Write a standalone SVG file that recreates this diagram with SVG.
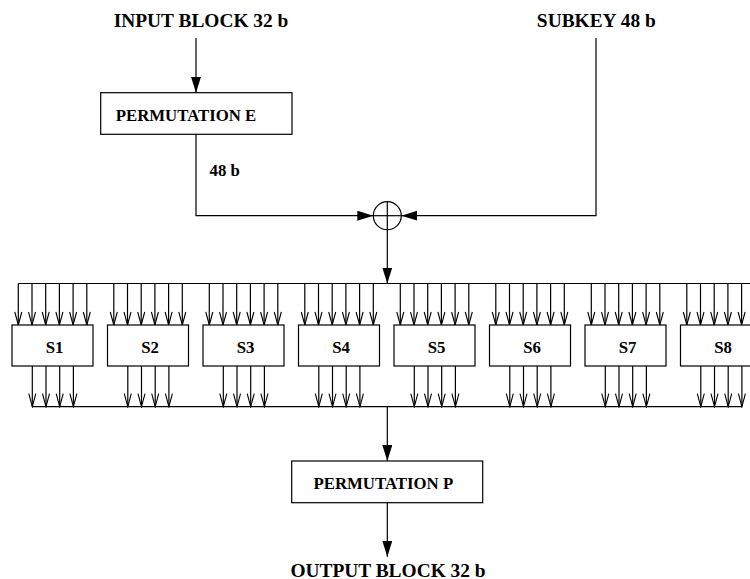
<svg xmlns="http://www.w3.org/2000/svg" width="750" height="579" viewBox="0 0 750 579">
<style>
.ln{stroke:#000;stroke-width:1.2;fill:none}
.bx{stroke:#000;stroke-width:1.2;fill:#fff}
.t{font-family:"Liberation Serif","Times New Roman",serif;font-weight:bold;font-size:16.8px;fill:#000}
.big{font-size:19.4px}
.m{text-anchor:middle}
.in{marker-end:url(#open)}
.fa{marker-end:url(#filled)}
</style>
<defs>
<marker id="filled" markerUnits="userSpaceOnUse" markerWidth="17" markerHeight="11" refX="16" refY="5" orient="auto" viewBox="0 0 17 11">
<path d="M0,0 L16,5 L0,10 z" fill="#000"/>
</marker>
<marker id="open" markerUnits="userSpaceOnUse" markerWidth="15" markerHeight="9" refX="13" refY="3.5" orient="auto" viewBox="-1 -1 15 9">
<path d="M0,0 L13,3.5 L0,7" fill="none" stroke="#000" stroke-width="1.1"/>
</marker>
</defs>
<rect width="750" height="579" fill="#fff"/>

<g id="connectors">
<line class="ln fa" x1="196" y1="38" x2="196" y2="92.7"/>
<polyline class="ln fa" points="196,134.3 196,215.7 373.3,215.7"/>
<polyline class="ln fa" points="596,38 596,215.7 401.3,215.7"/>
<line class="ln fa" x1="387.3" y1="229.7" x2="387.3" y2="283.5"/>
<line class="ln" x1="18.3" y1="283.5" x2="750" y2="283.5"/>
<line class="ln" x1="32.3" y1="406.7" x2="741.9" y2="406.7"/>
<line class="ln fa" x1="387.3" y1="406.7" x2="387.3" y2="461"/>
<line class="ln fa" x1="387.3" y1="502.7" x2="387.3" y2="556.7"/>
<g id="sbox-inputs">
<path class="ln in" d="M18.3,283.5V325"/><path class="ln in" d="M32,283.5V325"/><path class="ln in" d="M45.7,283.5V325"/><path class="ln in" d="M59.4,283.5V325"/><path class="ln in" d="M73.1,283.5V325"/><path class="ln in" d="M86.8,283.5V325"/>
<path class="ln in" d="M113.8,283.5V325"/><path class="ln in" d="M127.5,283.5V325"/><path class="ln in" d="M141.2,283.5V325"/><path class="ln in" d="M154.9,283.5V325"/><path class="ln in" d="M168.6,283.5V325"/><path class="ln in" d="M182.3,283.5V325"/>
<path class="ln in" d="M209.3,283.5V325"/><path class="ln in" d="M223,283.5V325"/><path class="ln in" d="M236.7,283.5V325"/><path class="ln in" d="M250.4,283.5V325"/><path class="ln in" d="M264.1,283.5V325"/><path class="ln in" d="M277.8,283.5V325"/>
<path class="ln in" d="M304.8,283.5V325"/><path class="ln in" d="M318.5,283.5V325"/><path class="ln in" d="M332.2,283.5V325"/><path class="ln in" d="M345.9,283.5V325"/><path class="ln in" d="M359.6,283.5V325"/><path class="ln in" d="M373.3,283.5V325"/>
<path class="ln in" d="M400.3,283.5V325"/><path class="ln in" d="M414,283.5V325"/><path class="ln in" d="M427.7,283.5V325"/><path class="ln in" d="M441.4,283.5V325"/><path class="ln in" d="M455.1,283.5V325"/><path class="ln in" d="M468.8,283.5V325"/>
<path class="ln in" d="M495.8,283.5V325"/><path class="ln in" d="M509.5,283.5V325"/><path class="ln in" d="M523.2,283.5V325"/><path class="ln in" d="M536.9,283.5V325"/><path class="ln in" d="M550.6,283.5V325"/><path class="ln in" d="M564.3,283.5V325"/>
<path class="ln in" d="M591.3,283.5V325"/><path class="ln in" d="M605,283.5V325"/><path class="ln in" d="M618.7,283.5V325"/><path class="ln in" d="M632.4,283.5V325"/><path class="ln in" d="M646.1,283.5V325"/><path class="ln in" d="M659.8,283.5V325"/>
<path class="ln in" d="M686.8,283.5V325"/><path class="ln in" d="M700.5,283.5V325"/><path class="ln in" d="M714.2,283.5V325"/><path class="ln in" d="M727.9,283.5V325"/><path class="ln in" d="M741.6,283.5V325"/>
</g>
<g id="sbox-outputs">
<path class="ln in" d="M32.3,366V406.7"/><path class="ln in" d="M46,366V406.7"/><path class="ln in" d="M59.7,366V406.7"/><path class="ln in" d="M73.4,366V406.7"/>
<path class="ln in" d="M127.8,366V406.7"/><path class="ln in" d="M141.5,366V406.7"/><path class="ln in" d="M155.2,366V406.7"/><path class="ln in" d="M168.9,366V406.7"/>
<path class="ln in" d="M223.3,366V406.7"/><path class="ln in" d="M237,366V406.7"/><path class="ln in" d="M250.7,366V406.7"/><path class="ln in" d="M264.4,366V406.7"/>
<path class="ln in" d="M318.8,366V406.7"/><path class="ln in" d="M332.5,366V406.7"/><path class="ln in" d="M346.2,366V406.7"/><path class="ln in" d="M359.9,366V406.7"/>
<path class="ln in" d="M414.3,366V406.7"/><path class="ln in" d="M428,366V406.7"/><path class="ln in" d="M441.7,366V406.7"/><path class="ln in" d="M455.4,366V406.7"/>
<path class="ln in" d="M509.8,366V406.7"/><path class="ln in" d="M523.5,366V406.7"/><path class="ln in" d="M537.2,366V406.7"/><path class="ln in" d="M550.9,366V406.7"/>
<path class="ln in" d="M605.3,366V406.7"/><path class="ln in" d="M619,366V406.7"/><path class="ln in" d="M632.7,366V406.7"/><path class="ln in" d="M646.4,366V406.7"/>
<path class="ln in" d="M700.8,366V406.7"/><path class="ln in" d="M714.5,366V406.7"/><path class="ln in" d="M728.2,366V406.7"/><path class="ln in" d="M741.9,366V406.7"/>
</g>
<text class="t" x="209.5" y="175.5">48 b</text>
</g>

<g id="input"><text class="t big m" x="201" y="26.5">INPUT BLOCK 32 b</text></g>
<g id="subkey"><text class="t big m" x="596.3" y="26.5">SUBKEY 48 b</text></g>
<g id="permE"><rect class="bx" x="100.7" y="92.7" width="191.3" height="41.6"/><text class="t" x="115.7" y="121">PERMUTATION E</text></g>
<g id="xor"><circle class="ln" cx="387.3" cy="215.7" r="14"/><line class="ln" x1="373.3" y1="215.7" x2="401.3" y2="215.7"/><line class="ln" x1="387.3" y1="201.7" x2="387.3" y2="229.7"/></g>
<g id="S1"><rect class="bx" x="12" y="325" width="81" height="41"/><text class="t m" x="54.5" y="353.3">S1</text></g>
<g id="S2"><rect class="bx" x="107.5" y="325" width="81" height="41"/><text class="t m" x="150" y="353.3">S2</text></g>
<g id="S3"><rect class="bx" x="203" y="325" width="81" height="41"/><text class="t m" x="245.5" y="353.3">S3</text></g>
<g id="S4"><rect class="bx" x="298.5" y="325" width="81" height="41"/><text class="t m" x="341" y="353.3">S4</text></g>
<g id="S5"><rect class="bx" x="394" y="325" width="81" height="41"/><text class="t m" x="436.5" y="353.3">S5</text></g>
<g id="S6"><rect class="bx" x="489.5" y="325" width="81" height="41"/><text class="t m" x="532" y="353.3">S6</text></g>
<g id="S7"><rect class="bx" x="585" y="325" width="81" height="41"/><text class="t m" x="627.5" y="353.3">S7</text></g>
<g id="S8"><rect class="bx" x="680.5" y="325" width="81" height="41"/><text class="t m" x="723" y="353.3">S8</text></g>
<g id="permP"><rect class="bx" x="291.7" y="461" width="191" height="41.7"/><text class="t m" x="383.3" y="489">PERMUTATION P</text></g>
<g id="output"><text class="t big m" x="388" y="576.5">OUTPUT BLOCK 32 b</text></g>
</svg>
